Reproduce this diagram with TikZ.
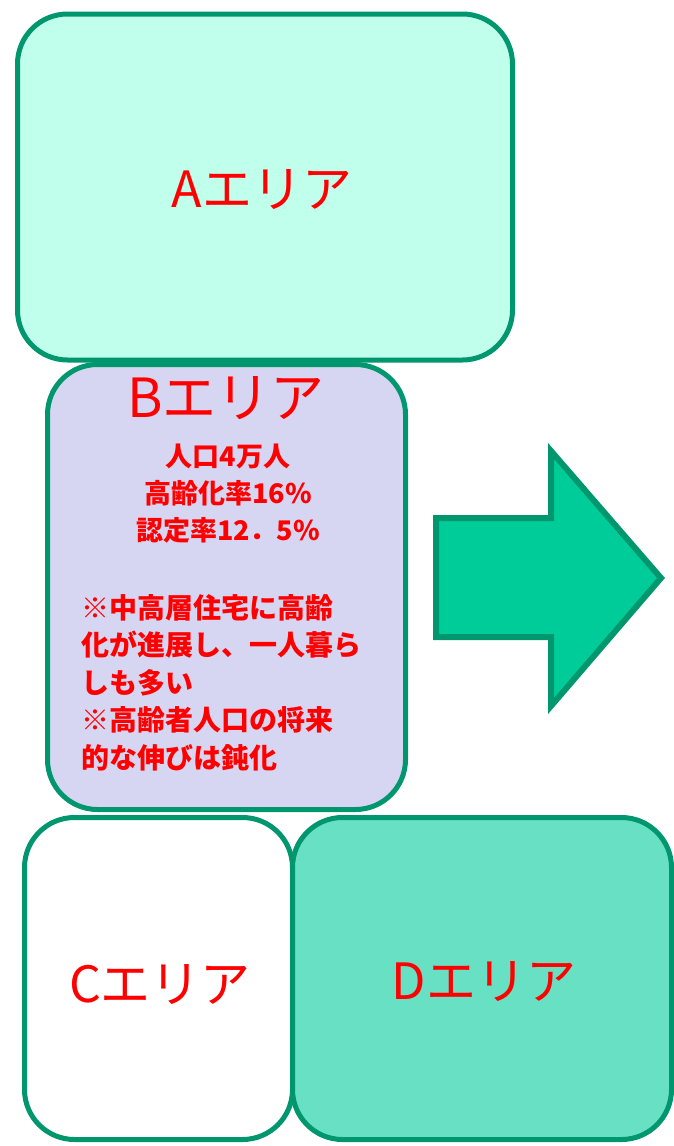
\documentclass[tikz,border=0pt]{standalone}
\usepackage{fontspec}
\newfontfamily\jp{Noto Sans CJK JP}
\definecolor{areaedge}{RGB}{0,150,110}
\definecolor{afill}{RGB}{192,255,236}
\definecolor{bfill}{RGB}{214,214,242}
\definecolor{dfill}{RGB}{104,224,196}
\definecolor{arrowfill}{RGB}{0,204,153}
\begin{document}
\begin{tikzpicture}[
	x = 1pt, y = -1pt,
	area/.style = {draw=areaedge, line width=5pt, rounded corners=50pt, inner sep=0pt},
	arealabel/.style = {text=red, font=\jp\fontsize{50}{56}\selectfont},
	smalltext/.style = {text=red, font=\jp\bfseries\fontsize{27}{37}\selectfont, inner sep=0pt},
	]
	\useasboundingbox (0,0) rectangle (674,1146);

	\node[area, fill=bfill, minimum width=358pt, minimum height=445pt] (B) at (226.5,587) {};
	\node[area, fill=afill, minimum width=495pt, minimum height=346pt] (A) at (265,187) {};
	\node[area, fill=white, minimum width=268pt, minimum height=322pt] (C) at (158.5,978.5) {};
	\node[area, fill=dfill, minimum width=379pt, minimum height=322pt] (D) at (482,978.5) {};

	\node[arealabel] (Alabel) at (262,190) {Aエリア};
	\node[arealabel, font=\jp\fontsize{54}{60}\selectfont] (Blabel) at (226,398) {Bエリア};
	\node[arealabel] (Clabel) at (160,985) {Cエリア};
	\node[arealabel] (Dlabel) at (484,982) {Dエリア};

	\node[smalltext, align=center] (Bstats) at (228,494) {人口4万人\\高齢化率16\%\\認定率12．5\%};
	\node[smalltext, align=left, anchor=north west, font=\jp\bfseries\fontsize{28}{37.5}\selectfont] (Bnote) at (81,594)
		{※中高層住宅に高齢\\化が進展し、一人暮ら\\しも多い\\※高齢者人口の将来\\的な伸びは鈍化};

	\draw[draw=areaedge, fill=arrowfill, line width=6pt]
		(436,518) -- (551,518) -- (551,451) -- (661,578) -- (551,706) -- (551,637) -- (436,637) -- cycle;
\end{tikzpicture}
\end{document}
